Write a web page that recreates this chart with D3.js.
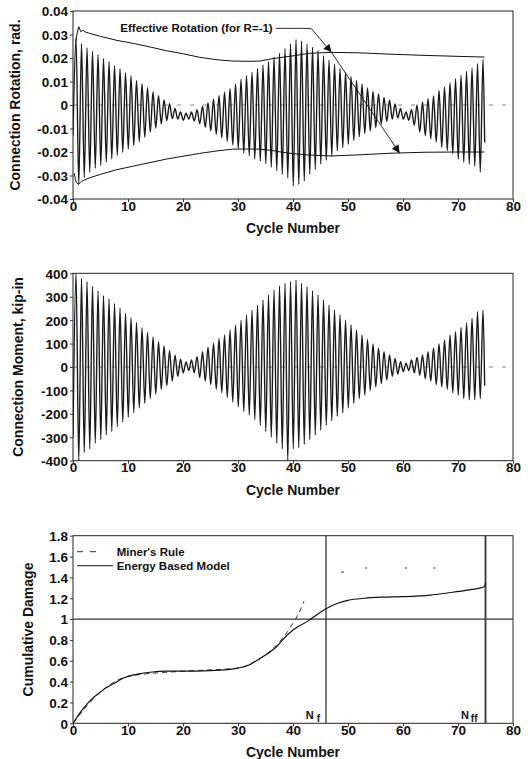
<!DOCTYPE html>
<html><head><meta charset="utf-8">
<script src="https://cdn.jsdelivr.net/npm/d3@7"></script>
<style>
body{margin:0;background:#fff}
svg{display:block}
text{font-family:"Liberation Sans",Arial,Helvetica,sans-serif;font-weight:bold;fill:#111}
</style>
</head><body>
<svg id="c" width="528" height="759"></svg>
<script>
// ---------- DATA ----------
const cycleTicks = [0,10,20,30,40,50,60,70,80];
const cycleTickLabels = ["0","10","20","30","40","50","60","70","80"];

const rotTicks = [0.04,0.03,0.02,0.01,0,-0.01,-0.02,-0.03,-0.04];
const rotTickLabels = ["0.04","0.03","0.02","0.01","0","-0.01","-0.02","-0.03","-0.04"];

const momentTicks = [400,300,200,100,0,-100,-200,-300,-400];
const momentTickLabels = ["400","300","200","100","0","-100","-200","-300","-400"];

const damageTicks = [0,0.2,0.4,0.6,0.8,1,1.2,1.4,1.6,1.8];
const damageTickLabels = ["0","0.2","0.4","0.6","0.8","1","1.2","1.4","1.6","1.8"];

// Connection rotation: per-cycle positive peak and negative trough (rad)
const rotStart = -0.013;
const rotPeaks = [0.0283,0.0262,0.0244,0.0229,0.0215,0.0198,0.0184,0.0167,0.0155,0.0137,
  0.0125,0.0105,0.0091,0.0074,0.0056,0.0040,0.0022,0.0005,-0.0015,-0.003,
  -0.0035,-0.003,-0.002,-0.0005,0.001,0.0025,0.004,0.0055,0.007,0.009,
  0.011,0.0125,0.014,0.0155,0.017,0.0185,0.0205,0.022,0.024,0.026,
  0.0278,0.0272,0.026,0.0246,0.0232,0.021,0.0192,0.0175,0.0154,0.0139,
  0.0121,0.0104,0.009,0.0073,0.0058,0.0047,0.0032,0.0021,0.0004,-0.0015,
  -0.003,-0.002,0.0,0.0013,0.0027,0.0038,0.0062,0.0077,0.0095,0.0112,
  0.0127,0.0144,0.0158,0.0176,0.0195];
const rotTroughs = [-0.0336,-0.0308,-0.0286,-0.0269,-0.0258,-0.0244,-0.023,-0.0215,-0.0201,-0.0187,
  -0.0173,-0.0156,-0.0137,-0.0115,-0.0098,-0.008,-0.0066,-0.0058,-0.006,-0.0065,
  -0.006,-0.0068,-0.008,-0.0095,-0.011,-0.0125,-0.014,-0.0155,-0.017,-0.0185,
  -0.0205,-0.0215,-0.023,-0.024,-0.025,-0.0265,-0.028,-0.0295,-0.031,-0.0345,
  -0.0338,-0.0324,-0.0295,-0.0274,-0.0252,-0.0235,-0.0217,-0.0195,-0.0181,-0.0167,
  -0.015,-0.0135,-0.0121,-0.011,-0.0096,-0.0081,-0.007,-0.006,-0.0055,-0.006,
  -0.0065,-0.0085,-0.0115,-0.013,-0.0144,-0.0158,-0.018,-0.0194,-0.0208,-0.023,
  -0.0244,-0.0251,-0.026,-0.0286,-0.016];

// Effective rotation envelopes (for R=-1)
const effUpperCycles = [0.5,0.8,1.05,1.4,1.8,2.3,3,5,8,11,14,17,20,23,26,29,32,34,36,38,40,43,47,52,58,64,70,74.8];
const effUpperValues = [0.027,0.031,0.0333,0.0312,0.0318,0.031,0.0305,0.0292,0.0275,0.0262,0.0247,0.0231,0.0218,0.0203,0.0193,0.0187,0.0186,0.0187,0.0196,0.0203,0.0209,0.022,0.0224,0.0222,0.0216,0.0211,0.0207,0.0204];
const effLowerCycles = [0.2,0.6,1.0,1.5,2,3,5,8,11,14,17,20,23,26,29,32,34,36,38,40,43,47,52,58,64,70,74.8];
const effLowerValues = [-0.029,-0.033,-0.0338,-0.0325,-0.032,-0.031,-0.0295,-0.0275,-0.026,-0.0245,-0.023,-0.0218,-0.0206,-0.0196,-0.0188,-0.0187,-0.0188,-0.0193,-0.0201,-0.0207,-0.0213,-0.0217,-0.0212,-0.0205,-0.0201,-0.02,-0.02];

// Annotation anchor (cycle, rad)
const annoLabel = "Effective Rotation (for R=-1)";
const annoTextAt = [8.6, 0.0326];
const annoPathCycles = [36.9, 43.3, 47.0, 59.4];
const annoPathValues = [0.0326, 0.0326, 0.0224, -0.0205];

// Connection moment: per-cycle positive peak and negative trough (kip-in)
const momentStart = -300;
const momentPeaks = [400,378,364,345,325,305,290,270,252,230,
  210,190,168,148,128,108,90,70,50,33,
  22,30,44,65,84,101,122,137,158,179,
  200,222,243,265,286,307,329,346,357,364,
  371,357,343,326,307,286,265,243,222,200,
  179,158,137,118,98,80,65,51,37,23,
  16,30,41,51,65,80,98,115,137,151,
  169,189,208,236,243];
const momentTroughs = [-400,-365,-350,-325,-310,-290,-275,-255,-235,-215,
  -195,-175,-155,-135,-115,-95,-80,-60,-40,-25,
  -15,-25,-45,-60,-75,-95,-110,-130,-150,-170,
  -190,-205,-225,-250,-275,-300,-325,-350,-400,-350,
  -345,-330,-310,-290,-270,-250,-230,-210,-195,-175,
  -155,-135,-120,-100,-85,-70,-55,-40,-30,-20,
  -15,-25,-35,-50,-60,-75,-85,-95,-110,-120,
  -135,-140,-140,-135,-80];

// Cumulative damage
const energyCycles = [0,0.5,1,2,3,4,5,6,7,8,9,10,12,14,17,20,25,28,30,32,33,35,37,39,41,43,44,46,48,50,53,56,60,65,68,72,74.5,74.9,75];
const energyValues = [0,0.04,0.08,0.15,0.21,0.26,0.30,0.34,0.37,0.40,0.43,0.45,0.475,0.49,0.50,0.50,0.505,0.515,0.53,0.56,0.59,0.655,0.735,0.85,0.93,0.99,1.03,1.10,1.15,1.18,1.20,1.21,1.215,1.23,1.25,1.28,1.305,1.32,1.345];
const minerCycles = [0,5,10,20,30,33,36,37.5,39,40,41,42];
const minerValues = [0,0.3,0.45,0.5,0.53,0.59,0.70,0.78,0.88,0.96,1.05,1.17];
const minerPlateauCycles = [49.0,53.3,60.5,65.7];
const minerPlateauValues = [1.45,1.49,1.49,1.49];
const damageLimit = 1;
const nf = 46, nff = 75;
const legendLabels = ["Miner's Rule","Energy Based Model"];

// ---------- LAYOUT ----------
const svg = d3.select("#c");
const X0 = 73, X1 = 513;
const panels = [
  {top:11, bottom:199, titleX:15, title:"Connection Rotation, rad.", dom:[-0.04,0.04], ticks:rotTicks, labels:rotTickLabels},
  {top:273.3, bottom:460.7, titleX:18, title:"Connection Moment, kip-in", dom:[-400,400], ticks:momentTicks, labels:momentTickLabels},
  {top:535.7, bottom:723.3, titleX:28, title:"Cumulative Damage", dom:[0,1.8], ticks:damageTicks, labels:damageTickLabels}
];
const x = d3.scaleLinear().domain([0,80]).range([X0,X1]);

const defs = svg.append("defs");
defs.append("marker").attr("id","arr").attr("viewBox","0 0 10 10").attr("refX",10).attr("refY",5)
  .attr("markerWidth",11).attr("markerHeight",8).attr("markerUnits","userSpaceOnUse").attr("orient","auto")
  .append("path").attr("d","M0,0L10,5L0,10Z").attr("fill","#111");

panels.forEach((p,k)=>{
  p.y = d3.scaleLinear().domain(p.dom).range([p.bottom,p.top]);
  defs.append("clipPath").attr("id","clip"+k).append("rect")
    .attr("x",X0).attr("y",p.top).attr("width",X1-X0).attr("height",p.bottom-p.top);
  const g = svg.append("g");
  g.append("rect").attr("x",X0).attr("y",p.top).attr("width",X1-X0).attr("height",p.bottom-p.top)
    .attr("fill","none").attr("stroke","#222").attr("stroke-width",1);
  const ya = g.append("g").attr("transform",`translate(${X0},0)`)
    .call(d3.axisLeft(p.y).tickValues(p.ticks).tickSize(3).tickFormat((d,i)=>p.labels[i]));
  ya.select(".domain").remove();
  ya.selectAll("line").attr("stroke","#333");
  ya.selectAll("text").attr("font-size","13.5px").attr("x",-5).attr("dy","0.36em").attr("fill","#111");
  const xa = g.append("g").attr("transform",`translate(0,${p.bottom})`)
    .call(d3.axisBottom(x).tickValues(cycleTicks).tickSize(3).tickFormat((d,i)=>cycleTickLabels[i]));
  xa.select(".domain").remove();
  xa.selectAll("line").attr("stroke","#333");
  xa.selectAll("text").attr("font-size","13.5px").attr("y",2).attr("dy","0.71em").attr("fill","#111");
  g.append("text").attr("x",x(40)).attr("y",p.bottom+34).attr("text-anchor","middle")
    .attr("font-size","14px").text("Cycle Number");
  g.append("text").attr("transform",`translate(${p.titleX},${(p.top+p.bottom)/2}) rotate(-90)`)
    .attr("text-anchor","middle").attr("dy","0.35em").attr("font-size","14px").text(p.title);
});

function cyclePoints(start, peaks, troughs){
  const pts = [[0,start]];
  peaks.forEach((v,i)=>{
    pts.push([i+0.55, v]);
    pts.push([Math.min(i+1.05, 74.85), troughs[i]]);
  });
  return pts;
}

// ---------- Panel 1: rotation ----------
{
  const p = panels[0], y = p.y;
  const g = svg.append("g").attr("clip-path","url(#clip0)");
  g.append("line").attr("x1",x(0)).attr("x2",x(79)).attr("y1",y(0)).attr("y2",y(0))
    .attr("stroke","#666").attr("stroke-width",0.8).attr("stroke-dasharray","4,9");
  const line = d3.line().x(d=>x(d[0])).y(d=>y(d[1])).curve(d3.curveMonotoneX);
  g.append("path").attr("d",line(cyclePoints(rotStart,rotPeaks,rotTroughs)))
    .attr("fill","none").attr("stroke","#1a1a1a").attr("stroke-width",1.4);
  const env = d3.line().x(d=>x(d[0])).y(d=>y(d[1])).curve(d3.curveLinear);
  g.append("path").attr("d",env(effUpperCycles.map((c,i)=>[c,effUpperValues[i]])))
    .attr("fill","none").attr("stroke","#111").attr("stroke-width",1);
  g.append("path").attr("d",env(effLowerCycles.map((c,i)=>[c,effLowerValues[i]])))
    .attr("fill","none").attr("stroke","#111").attr("stroke-width",1);
  svg.append("text").attr("x",x(annoTextAt[0])).attr("y",y(annoTextAt[1])).attr("dy","0.35em")
    .attr("font-size","11.5px").text(annoLabel);
  const ap = annoPathCycles.map((c,i)=>[x(c),y(annoPathValues[i])]);
  svg.append("path").attr("d",d3.line()([ap[0],ap[1],ap[2]])).attr("fill","none")
    .attr("stroke","#111").attr("stroke-width",0.9).attr("marker-end","url(#arr)");
  svg.append("path").attr("d",d3.line()([ap[2],ap[3]])).attr("fill","none")
    .attr("stroke","#111").attr("stroke-width",0.9).attr("marker-end","url(#arr)");
}

// ---------- Panel 2: moment ----------
{
  const p = panels[1], y = p.y;
  const g = svg.append("g").attr("clip-path","url(#clip1)");
  g.append("line").attr("x1",x(0)).attr("x2",x(79)).attr("y1",y(0)).attr("y2",y(0))
    .attr("stroke","#666").attr("stroke-width",0.8).attr("stroke-dasharray","4,9");
  const line = d3.line().x(d=>x(d[0])).y(d=>y(d[1])).curve(d3.curveMonotoneX);
  g.append("path").attr("d",line(cyclePoints(momentStart,momentPeaks,momentTroughs)))
    .attr("fill","none").attr("stroke","#1a1a1a").attr("stroke-width",1.4);
}

// ---------- Panel 3: damage ----------
{
  const p = panels[2], y = p.y;
  const g = svg.append("g").attr("clip-path","url(#clip2)");
  g.append("line").attr("x1",x(0)).attr("x2",x(80)).attr("y1",y(damageLimit)).attr("y2",y(damageLimit))
    .attr("stroke","#333").attr("stroke-width",1.3);
  g.append("line").attr("x1",x(nf)).attr("x2",x(nf)).attr("y1",y(0)).attr("y2",y(1.8))
    .attr("stroke","#111").attr("stroke-width",1.1);
  g.append("line").attr("x1",x(nff)).attr("x2",x(nff)).attr("y1",y(0)).attr("y2",y(1.8))
    .attr("stroke","#444").attr("stroke-width",2);
  const line = d3.line().x(d=>x(d[0])).y(d=>y(d[1])).curve(d3.curveMonotoneX);
  g.append("path").attr("d",line(minerCycles.map((c,i)=>[c,minerValues[i]])))
    .attr("fill","none").attr("stroke","#333").attr("stroke-width",1).attr("stroke-dasharray","5,4");
  g.selectAll(".mp").data(minerPlateauCycles).join("line")
    .attr("x1",(c)=>x(c)-1.2).attr("x2",(c)=>x(c)+1.2)
    .attr("y1",(c,i)=>y(minerPlateauValues[i])).attr("y2",(c,i)=>y(minerPlateauValues[i]))
    .attr("stroke","#444").attr("stroke-width",1.2);
  g.append("path").attr("d",line(energyCycles.map((c,i)=>[c,energyValues[i]])))
    .attr("fill","none").attr("stroke","#111").attr("stroke-width",1.2);
  const lg = svg.append("g");
  lg.append("line").attr("x1",77).attr("x2",97).attr("y1",551.7).attr("y2",551.7)
    .attr("stroke","#333").attr("stroke-width",1).attr("stroke-dasharray","6,7");
  lg.append("line").attr("x1",77).attr("x2",113).attr("y1",565.7).attr("y2",565.7)
    .attr("stroke","#111").attr("stroke-width",1.1);
  lg.selectAll("text.lab").data(legendLabels).join("text").attr("class","lab")
    .attr("x",116.7).attr("y",(d,i)=>551.7+i*14).attr("dy","0.35em").attr("font-size","11.5px").text(d=>d);
  const t1 = svg.append("text").attr("x",x(nf)-6).attr("y",y(0)-4).attr("text-anchor","end").attr("font-size","11px");
  t1.append("tspan").text("N");
  t1.append("tspan").attr("dx",3).attr("dy",3).attr("font-size","10px").text("f");
  const t2 = svg.append("text").attr("x",x(nff)-8).attr("y",y(0)-4).attr("text-anchor","end").attr("font-size","11px");
  t2.append("tspan").text("N");
  t2.append("tspan").attr("dx",2).attr("dy",3).attr("font-size","10px").text("ff");
}
</script>
</body></html>
